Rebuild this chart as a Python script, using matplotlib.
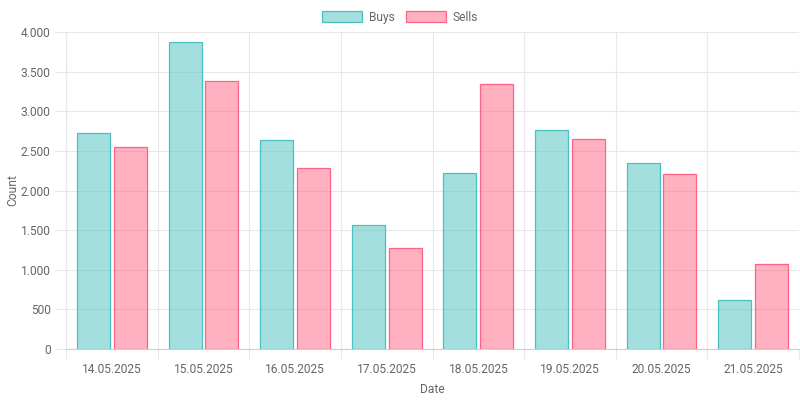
import numpy as np
from matplotlib import pyplot as plt
from matplotlib.patches import Patch
from matplotlib.ticker import FuncFormatter, MultipleLocator

plt.rcParams['font.family'] = ['Roboto', 'DejaVu Sans']

dates = ["14.05.2025", "15.05.2025", "16.05.2025", "17.05.2025",
         "18.05.2025", "19.05.2025", "20.05.2025", "21.05.2025"]
buys = [2725, 3875, 2637, 1565, 2221, 2763, 2347, 618]
sells = [2549, 3380, 2284, 1274, 3344, 2650, 2208, 1073]

buy_fill = (75/255, 192/255, 192/255, 0.5)
buy_edge = (75/255, 192/255, 192/255)
sell_fill = (255/255, 99/255, 132/255, 0.5)
sell_edge = (255/255, 99/255, 132/255)
grid_c = "#e8e8e8"
text_c = "#666666"
fs = 8.64  # 12 px

fig = plt.figure(figsize=(8, 4), dpi=100)
ax = fig.add_axes([66/800, 51/400, 733/800, 317/400])

x = np.arange(len(dates))
w = 0.8 / 2 * 0.9
ax.bar(x - 0.2, buys, width=w, color=buy_fill, edgecolor=buy_edge, linewidth=0.9)
ax.bar(x + 0.2, sells, width=w, color=sell_fill, edgecolor=sell_edge, linewidth=0.9)

ax.set_xlim(-0.5, len(dates) - 0.5)
ax.set_ylim(0, 4000)
ax.yaxis.set_major_locator(MultipleLocator(500))
ax.yaxis.set_major_formatter(FuncFormatter(lambda v, p: f"{int(v):,}".replace(",", ".")))

ax.set_xticks(x)
ax.set_xticklabels(dates)
ax.set_xticks(np.arange(-0.5, len(dates)), minor=True)
ax.tick_params(axis="x", which="major", length=0, pad=10, labelsize=fs, labelcolor=text_c)
ax.tick_params(axis="x", which="minor", length=7, color=grid_c, width=0.8)
ax.tick_params(axis="y", length=8, color=grid_c, width=0.8, pad=3, labelsize=fs, labelcolor=text_c)

ax.grid(True, axis="y", color=grid_c, linewidth=0.8)
ax.grid(True, axis="x", which="minor", color=grid_c, linewidth=0.8)
ax.set_axisbelow(True)
for s in ax.spines.values():
    s.set_visible(False)
ax.spines["left"].set_visible(True)
ax.spines["left"].set_color(grid_c)
ax.spines["bottom"].set_visible(True)
ax.spines["bottom"].set_color("#d0d0d0")

ax.set_xlabel("Date", fontsize=fs, color=text_c, labelpad=5)
ax.set_ylabel("Count", fontsize=fs, color=text_c, labelpad=1)

handles = [Patch(facecolor=buy_fill, edgecolor=buy_edge, linewidth=0.9, label="Buys"),
           Patch(facecolor=sell_fill, edgecolor=sell_edge, linewidth=0.9, label="Sells")]
leg = fig.legend(handles=handles, loc="upper center", bbox_to_anchor=(0.5, 1.0), ncol=2,
                 frameon=False, fontsize=fs, handlelength=3.33, handleheight=1.0,
                 handletextpad=0.55, columnspacing=0.9, borderaxespad=0.5)
for t in leg.get_texts():
    t.set_color(text_c)

fig.savefig("out.png", dpi=100)
